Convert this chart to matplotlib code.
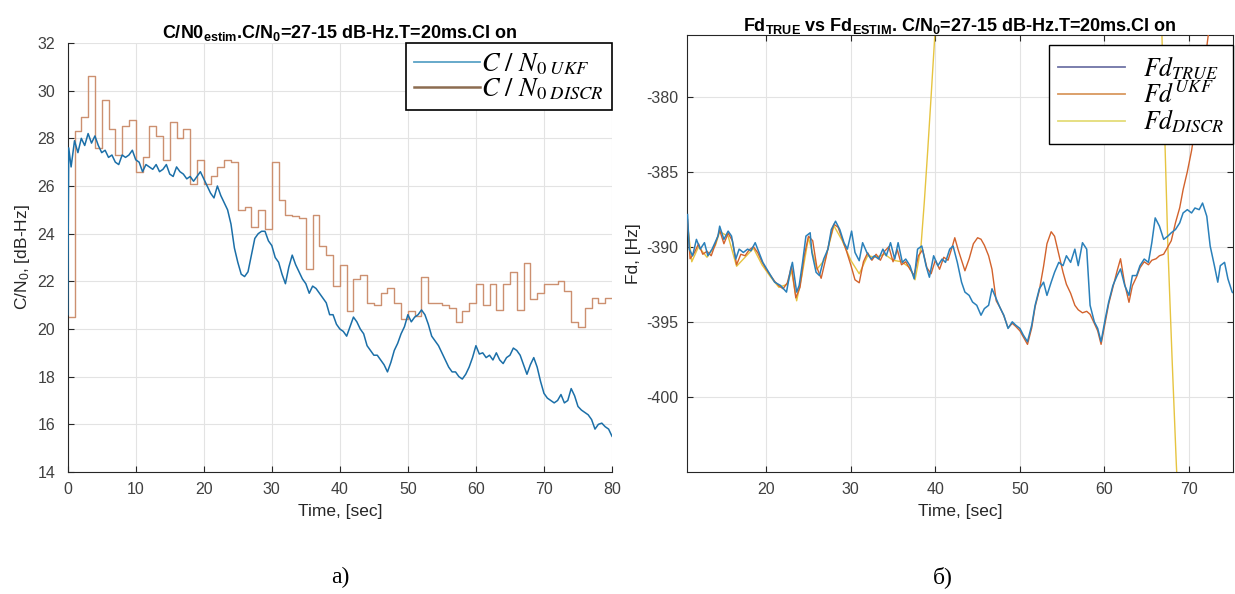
import numpy as np
import matplotlib
matplotlib.use('Agg')
import matplotlib.pyplot as plt
from matplotlib.lines import Line2D
from matplotlib.font_manager import FontProperties

plt.rcParams['font.family'] = ['Liberation Sans', 'DejaVu Sans']
plt.rcParams['mathtext.fontset'] = 'custom'
plt.rcParams['mathtext.rm'] = 'Liberation Sans'
plt.rcParams['mathtext.it'] = 'Liberation Sans:italic'
plt.rcParams['mathtext.bf'] = 'Liberation Sans:bold'
plt.rcParams['axes.unicode_minus'] = False

# ---- a) C/N0 estimates ----
t_ukf = [0.0, 0.15] + list(np.arange(0.5, 80.01, 0.5))
cn0_ukf = [20.6, 27.6,
           26.8, 27.9, 27.4, 28.0, 27.7, 28.2, 27.8, 28.1, 27.7, 27.4,
           27.5, 27.2, 27.3, 27.0, 26.9, 27.3, 27.2, 27.3, 27.5, 27.1,
           27.0, 26.6, 26.9, 26.8, 26.7, 26.9, 26.6, 26.7, 26.9, 26.5,
           26.4, 26.8, 26.6, 26.5, 26.3, 26.4, 26.2, 26.4, 26.6, 26.3,
           26.0, 25.7, 25.5, 26.0, 25.6, 25.3, 25.0, 24.4, 23.4, 22.8,
           22.3, 22.2, 22.4, 23.1, 23.8, 24.0, 24.1, 24.1, 23.7, 23.5,
           23.0, 22.8, 22.3, 21.9, 22.6, 23.1, 22.7, 22.4, 22.1, 21.9,
           21.5, 21.8, 21.7, 21.5, 21.3, 21.1, 20.6, 20.6, 20.2, 20.0,
           19.9, 19.7, 20.1, 20.5, 20.3, 20.0, 19.8, 19.3, 19.1, 18.9,
           18.9, 18.7, 18.5, 18.2, 18.6, 19.1, 19.4, 19.8, 20.1, 20.6,
           20.3, 20.5, 20.6, 20.8, 20.6, 20.2, 19.7, 19.5, 19.3, 19.0,
           18.7, 18.4, 18.2, 18.2, 18.0, 17.9, 18.1, 18.4, 18.8, 19.3,
           18.95, 19.0, 18.8, 18.9, 18.7, 19.0, 18.7, 18.55, 18.8, 18.9,
           19.2, 19.1, 18.9, 18.5, 18.1, 18.5, 18.8, 18.4, 17.8, 17.3,
           17.1, 17.0, 16.9, 17.0, 17.25, 16.9, 17.0, 17.5, 17.2, 16.75,
           16.6, 16.5, 16.4, 16.2, 15.8, 16.0, 16.05, 15.9, 15.8, 15.5]

t_discr = list(range(0, 81))
cn0_discr = [20.5, 28.3, 28.9, 30.6, 27.6, 29.6, 28.4, 27.3, 28.5, 28.75,
             26.6, 27.2, 28.5, 28.1, 27.1, 28.7, 28.0, 28.4, 26.1, 27.1,
             26.1, 26.4, 26.8, 27.1, 27.0, 25.0, 25.1, 24.3, 25.0, 24.2,
             27.0, 25.4, 24.8, 24.75, 24.65, 22.5, 24.8, 23.5, 23.1, 21.8,
             22.7, 20.75, 22.1, 22.25, 21.1, 21.0, 21.5, 21.7, 21.1, 20.4,
             20.75, 20.55, 22.2, 21.1, 21.1, 21.0, 20.9, 20.3, 20.75, 21.1,
             21.9, 21.0, 21.9, 20.8, 21.9, 22.4, 20.8, 22.75, 21.25, 21.5,
             21.9, 21.9, 22.0, 21.6, 20.3, 20.1, 20.9, 21.3, 21.1, 21.3,
             21.3]

# ---- b) Doppler frequency ----
t_true = [10.7, 10.9, 11.3, 11.75, 12.2, 12.7, 13.1, 13.6, 14.3, 14.5,
          15.0, 15.5, 15.9, 16.4, 16.8, 17.3, 17.8, 18.2, 18.7, 19.0,
          19.6, 20.3, 21.0, 21.7, 22.4, 22.9, 23.1, 23.6, 23.9, 24.3,
          24.7, 25.2, 25.4, 25.9, 26.3, 26.8, 27.3, 27.7, 28.2, 28.7,
          29.2, 29.6, 30.1, 30.5, 31.0, 31.4, 31.9, 32.4, 32.8, 33.3,
          33.8, 34.2, 34.7, 35.2, 35.6, 36.1, 36.5, 37.0, 37.5, 37.9,
          38.4, 38.9, 39.3, 39.8, 40.3, 40.8, 41.2, 41.7, 42.1, 42.6,
          43.1, 43.5, 44.0, 44.4, 44.9, 45.4, 45.8, 46.3, 46.7, 47.2,
          47.7, 48.1, 48.6, 49.1, 49.5, 50.0, 50.4, 50.9, 51.4, 51.8,
          52.3, 52.8, 53.2, 53.7, 54.1, 54.6, 55.1, 55.5, 56.0, 56.5,
          56.9, 57.4, 57.9, 58.3, 58.8, 59.2, 59.6, 60.1, 60.5, 61.0,
          61.5, 61.9, 62.4, 62.9, 63.3, 63.8, 64.2, 64.7, 65.2, 65.6,
          66.0, 66.5, 67.0, 67.5, 67.9, 68.4, 68.9, 69.3, 69.8, 70.3,
          70.7, 71.2, 71.6, 72.1, 72.5, 73.0, 73.4, 73.7, 74.2, 74.6,
          75.1, 75.3]
fd_true = [-387.86, -390.16, -390.60, -389.51, -390.16, -389.73, -390.60, -390.16, -389.29, -388.63,
           -389.51, -388.96, -389.29, -390.82, -390.16, -390.38, -390.16, -390.27, -389.73, -390.16,
           -391.04, -391.70, -392.36, -392.58, -393.02, -391.48, -391.04, -393.02, -392.58, -391.04,
           -389.29, -389.07, -390.38, -391.70, -391.92, -390.82, -390.16, -388.85, -388.30, -388.85,
           -389.73, -390.16, -388.96, -390.38, -390.93, -389.73, -390.38, -390.82, -390.60, -390.82,
           -390.16, -390.60, -389.73, -390.82, -389.73, -391.04, -390.82, -391.26, -392.14, -390.16,
           -389.95, -391.26, -392.03, -390.60, -391.26, -390.82, -391.04, -390.16, -389.95, -391.04,
           -392.36, -393.02, -393.24, -393.68, -393.90, -394.56, -394.12, -393.90, -392.80, -393.46,
           -394.12, -394.56, -395.44, -395.00, -395.22, -395.44, -395.88, -396.32, -395.22, -393.90,
           -392.80, -392.36, -393.24, -392.36, -391.70, -391.04, -391.26, -390.60, -391.04, -390.16,
           -391.26, -389.73, -390.16, -393.90, -395.00, -395.44, -396.32, -394.78, -393.68, -392.58,
           -391.92, -391.48, -392.58, -393.24, -391.92, -391.92, -391.26, -390.82, -391.04, -389.73,
           -388.08, -388.63, -389.51, -389.29, -389.07, -388.85, -388.41, -387.75, -387.53, -387.75,
           -387.42, -387.53, -387.09, -387.97, -389.95, -391.26, -392.36, -391.26, -391.04, -392.14,
           -393.02, -393.10]

t_fd_ukf = [10.7, 11.0, 11.5, 12.0, 12.5, 13.0, 13.5, 14.0, 14.5, 15.0,
            15.5, 16.0, 16.5, 17.0, 17.5, 18.0, 18.5, 19.0, 19.5, 20.0,
            20.5, 21.0, 21.5, 22.0, 22.5, 23.0, 23.5, 24.0, 24.5, 25.0,
            25.5, 26.0, 26.5, 27.0, 27.5, 28.0, 28.5, 29.0, 29.5, 30.0,
            30.5, 31.0, 31.5, 32.0, 32.5, 33.0, 33.5, 34.0, 34.5, 35.0,
            35.5, 36.0, 36.5, 37.0, 37.5, 38.0, 38.5, 39.0, 39.5, 40.0,
            40.5, 41.0, 41.5, 42.0, 42.3, 42.7, 43.1, 43.5, 44.0, 44.5,
            45.0, 45.4, 45.8, 46.3, 46.7, 47.2, 47.7, 48.1, 48.6, 49.1,
            49.5, 50.0, 50.4, 50.9, 51.4, 51.8, 52.3, 52.8, 53.2, 53.7,
            54.1, 54.6, 55.1, 55.5, 56.0, 56.5, 56.9, 57.4, 57.9, 58.3,
            58.8, 59.2, 59.6, 60.1, 60.5, 61.0, 61.5, 61.9, 62.4, 62.9,
            63.3, 63.8, 64.2, 64.7, 65.2, 65.6, 66.1, 66.5, 67.0, 67.5,
            67.9, 68.4, 68.9, 69.3, 69.8, 70.3, 70.8, 71.3, 71.8, 72.3,
            72.8]
fd_ukf = [-388.2, -390.8, -390.4, -389.8, -390.5, -390.3, -390.6, -389.8, -388.9, -389.8,
          -389.1, -389.6, -391.2, -390.5, -390.6, -390.2, -390.0, -390.4, -391.0, -391.5,
          -391.9, -392.3, -392.6, -392.8, -392.4, -391.3, -393.4, -392.7, -390.6, -389.3,
          -389.6, -391.4, -392.1, -390.9, -389.6, -388.5, -388.7, -389.5, -390.3, -391.2,
          -392.2, -392.4, -391.0, -390.4, -390.9, -390.5, -390.9, -390.3, -390.0, -391.0,
          -390.2, -391.2, -391.0, -391.5, -391.9, -390.6, -390.2, -391.4, -391.8, -390.9,
          -391.5, -390.7, -390.9, -390.0, -389.4, -390.2, -390.9, -391.6, -390.8, -389.8,
          -389.4, -389.5, -389.9, -390.6, -391.5, -393.6, -394.1, -394.6, -395.4, -395.1,
          -395.3, -395.6, -396.0, -396.5, -395.4, -394.0, -392.9, -391.3, -389.8, -389.0,
          -389.3, -390.5, -391.7, -392.5, -393.1, -393.9, -394.2, -394.4, -394.3, -394.5,
          -395.1, -395.6, -396.5, -395.0, -393.8, -392.7, -391.6, -390.8, -392.5, -393.7,
          -392.6, -392.0, -391.4, -391.0, -391.2, -390.9, -390.8, -390.6, -390.5, -390.0,
          -389.6, -388.4, -387.4, -386.2, -385.0, -383.6, -381.8, -380.0, -378.0, -375.8,
          -373.5]

t_fd_discr = [10.7, 11.2, 12.0, 13.0, 14.0, 14.5, 15.5, 16.5, 17.5, 18.5,
              19.5, 20.5, 21.5, 22.5, 23.0, 23.6, 24.2, 25.0, 26.0, 27.0,
              28.0, 29.0, 30.0, 31.0, 32.0, 33.0, 34.0, 35.0, 36.0, 37.0,
              37.6, 38.0, 38.3, 38.7, 39.1, 39.5, 39.9, 40.3, 66.7, 67.0,
              67.5, 68.0, 68.5, 68.8]
fd_discr = [-388.5, -391.0, -390.0, -390.7, -389.9, -389.0, -389.3, -391.3, -390.7, -390.1,
            -391.2, -392.0, -392.7, -392.5, -391.6, -393.6, -392.0, -389.4, -391.5, -390.8,
            -388.6, -389.6, -390.9, -391.8, -390.6, -390.7, -390.5, -390.9, -391.0, -391.4,
            -392.2, -391.0, -390.0, -387.0, -383.6, -380.0, -376.3, -372.0, -374.0, -380.0,
            -390.0, -397.5, -404.5, -408.0]

W, H = 1235, 594
fig = plt.figure(figsize=(W / 100, H / 100), dpi=100)
ax1 = fig.add_axes([67.7 / W, 1 - 472 / H, (612 - 67.7) / W, (472 - 43) / H])
ax2 = fig.add_axes([686.7 / W, 1 - 472 / H, (1233 - 686.7) / W, (472 - 35) / H])

grid_kw = dict(color='#e3e3e3', linewidth=0.8)
tick_color = '#404040'
dark = '#262626'

# a)
ax1.plot(t_ukf, cn0_ukf, color='#1b6fa8', linewidth=1.1, zorder=3)
ax1.step(t_discr, cn0_discr, where='post', color='#cc9070', linewidth=1.0, zorder=2)
ax1.set_xlim(0, 80)
ax1.set_ylim(14, 32)
ax1.set_xticks(range(0, 81, 10))
ax1.set_yticks(range(14, 33, 2))
ax1.grid(True, **grid_kw)
for s in ['top', 'right']:
    ax1.spines[s].set_visible(False)
for s in ['left', 'bottom']:
    ax1.spines[s].set_color(dark)
ax1.tick_params(direction='in', length=4, color=dark, labelcolor=tick_color,
                labelsize=11.5)
ax1.tick_params(axis='x', pad=7)
ax1.tick_params(axis='y', pad=9)
ax1.set_xlabel('Time, [sec]', fontsize=12.5, color=dark, labelpad=5)
ax1.set_ylabel('C/N$_0$, [dB-Hz]', fontsize=12.5, color=dark, labelpad=4)
ax1.set_title(r'C/N0$_{\mathbf{estim}}$.C/N$_{\mathbf{0}}$=27-15 dB-Hz.T=20ms.CI on',
              fontsize=13, fontweight='bold', pad=3)

leg_font = FontProperties(family='serif', size=19, math_fontfamily='stix')
h1 = [Line2D([], [], color='#5aa3c6', linewidth=1.3),
      Line2D([], [], color='#8c6c50', linewidth=1.8)]
leg1 = ax1.legend(h1, [r'$C\ /\ N_{\mathrm{0}\ UKF}$', r'$C\ /\ N_{\mathrm{0}\ DISCR}$'],
                  loc='upper right', borderaxespad=0, prop=leg_font, fancybox=False,
                  framealpha=1, edgecolor='black', handlelength=2.5, handletextpad=0.05,
                  labelspacing=0.0, borderpad=0.3)
leg1.get_frame().set_linewidth(1.2)
leg1.set_zorder(5)

# b)
ax2.plot(t_fd_discr, fd_discr, color='#e6c440', linewidth=1.0, zorder=2)
ax2.plot(t_fd_ukf, fd_ukf, color='#d2622c', linewidth=1.0, zorder=3)
ax2.plot(t_true, fd_true, color='#2a80ba', linewidth=1.1, zorder=4)
ax2.set_xlim(10.6, 75.2)
ax2.set_ylim(-405.0, -375.9)
ax2.set_xticks(range(20, 71, 10))
ax2.set_yticks(range(-400, -379, 5))
ax2.grid(True, **grid_kw)
for s in ax2.spines.values():
    s.set_color(dark)
ax2.tick_params(direction='in', length=4, color=dark, labelcolor=tick_color,
                labelsize=11.5, top=True, right=True)
ax2.tick_params(axis='x', pad=7)
ax2.tick_params(axis='y', pad=6)
ax2.set_xlabel('Time, [sec]', fontsize=12.5, color=dark, labelpad=5)
ax2.set_ylabel('Fd, [Hz]', fontsize=12.5, color=dark, labelpad=4)
ax2.set_title(r'Fd$_{\mathbf{TRUE}}$ vs Fd$_{\mathbf{ESTIM}}$. C/N$_{\mathbf{0}}$=27-15 dB-Hz.T=20ms.CI on',
              fontsize=13, fontweight='bold', pad=3)

leg_font2 = FontProperties(family='serif', size=18.5, math_fontfamily='stix')
h2 = [Line2D([], [], color='#7074a6', linewidth=1.3),
      Line2D([], [], color='#d9985f', linewidth=1.3),
      Line2D([], [], color='#e4dc78', linewidth=1.3)]
leg2 = ax2.legend(h2, [r'$Fd_{TRUE}$', r'$Fd^{UKF}$', r'$Fd_{DISCR}$'],
                  loc='upper right', bbox_to_anchor=(1.0, 1 - 10 / 437), borderaxespad=0,
                  prop=leg_font2, fancybox=False, framealpha=1, edgecolor='black',
                  handlelength=2.6, handletextpad=0.7, labelspacing=0.0, borderpad=0.35)
leg2.get_frame().set_linewidth(1.0)
leg2.set_zorder(5)

fig.text(340 / W, 1 - 577 / H, 'а)', family='Liberation Serif', fontsize=17,
         ha='center', va='center')
fig.text(943 / W, 1 - 577 / H, 'б)', family='Liberation Serif', fontsize=17,
         ha='center', va='center')

fig.savefig('out.png', dpi=100)
